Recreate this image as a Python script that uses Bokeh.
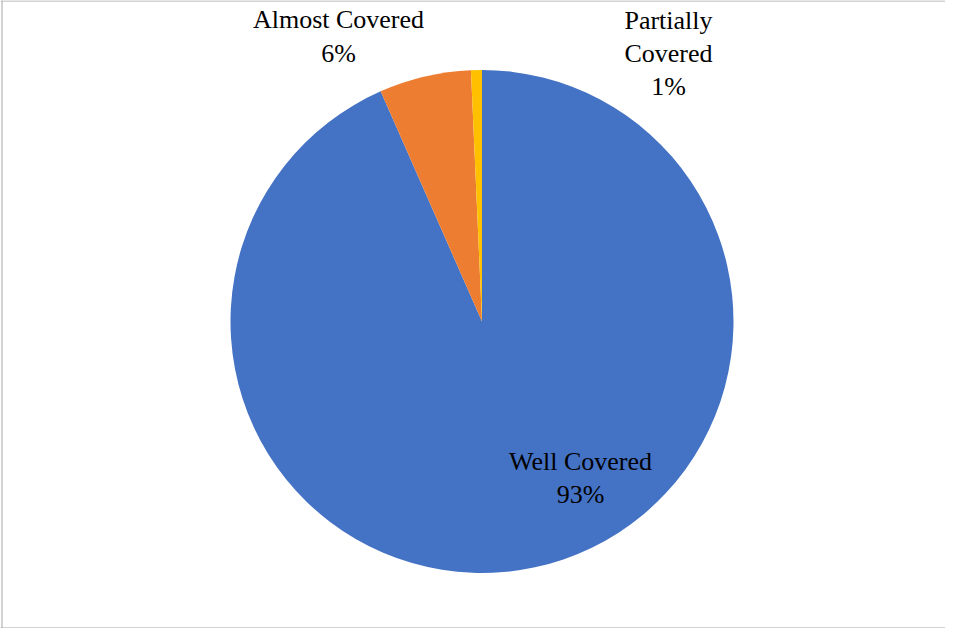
import numpy as np
from bokeh.plotting import figure
from bokeh.models import Range1d, ColumnDataSource, Span
from bokeh.core.properties import value
from bokeh.embed import file_html
from bokeh.resources import INLINE

# ---- data ----
categories = ["Well Covered", "Almost Covered", "Partially Covered"]
label_names = ["Well Covered", "Almost Covered", "Partially\nCovered"]
shares = [93.4, 5.9, 0.7]
colors = ["#4472C4", "#ED7D31", "#FFC000"]

# ---- layout (screenshot pixel coordinates, y measured upward) ----
W, H = 945, 628
PAGE_H = 644
cx, cy = 481.5, PAGE_H - 321
R = 251.5
label_dx = [98.5, -143.5, 186.5]
label_dy = [-156.5, 285, 268]

fr = np.array(shares) / sum(shares)
cum = np.concatenate([[0.0], np.cumsum(fr)])
start = np.pi / 2 - cum[:-1] * 2 * np.pi
end = np.pi / 2 - cum[1:] * 2 * np.pi

texts = [f"{n}\n{round(s)}%" for n, s in zip(label_names, fr * 100)]

src = ColumnDataSource(dict(
    cat=categories, start=start, end=end, color=colors,
    x=[cx] * len(shares), y=[cy] * len(shares),
))
lab = ColumnDataSource(dict(
    x=[cx + d for d in label_dx], y=[cy + d for d in label_dy], text=texts,
))

p = figure(width=W, height=H, x_range=Range1d(0, W), y_range=Range1d(PAGE_H - H, PAGE_H),
           x_axis_type=None, y_axis_type=None, toolbar_location=None,
           output_backend="svg", min_border=0)
p.grid.visible = False
p.outline_line_color = None
p.background_fill_color = "white"
p.border_fill_color = "white"

p.wedge(x="x", y="y", radius=R, start_angle="start", end_angle="end",
        direction="clock", fill_color="color", line_color=None, source=src)

p.text(x="x", y="y", text="text", source=lab,
       text_font=value("'Times New Roman', 'Liberation Serif', serif"),
       text_font_size="26px", text_align="center", text_baseline="middle",
       text_color="black", text_line_height=1.15)

border = "#a6a6a6"
p.add_layout(Span(location=1.5, dimension="height", line_color=border, line_width=1))
p.add_layout(Span(location=PAGE_H - 0.5, dimension="width", line_color=border, line_width=1))
p.add_layout(Span(location=PAGE_H - H + 0.5, dimension="width", line_color=border, line_width=1))

open("out.html", "w").write(file_html(p, INLINE))
